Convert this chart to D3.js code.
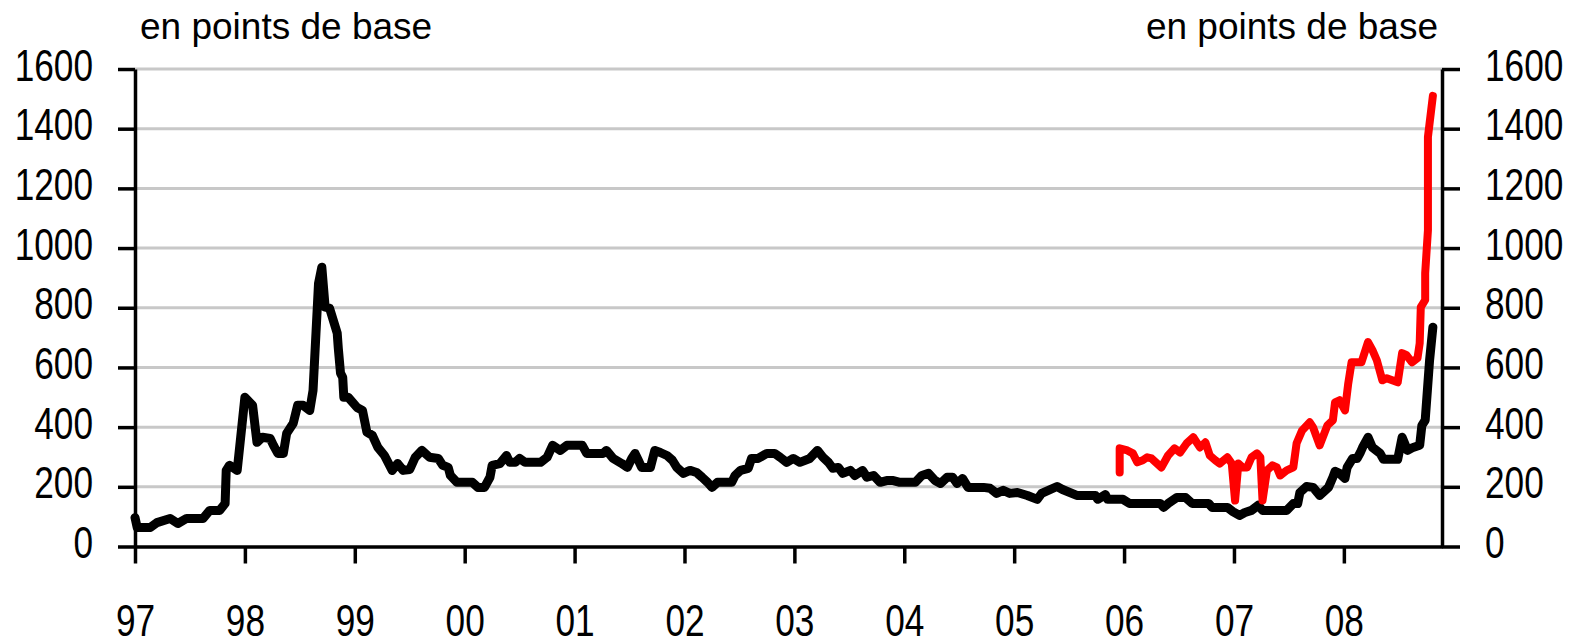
<!DOCTYPE html>
<html>
<head>
<meta charset="utf-8">
<script src="https://cdn.jsdelivr.net/npm/d3@7"></script>
<style>
  html, body { margin: 0; padding: 0; background: #fff; }
  svg { display: block; }
  text { font-family: "Liberation Sans", Arial, sans-serif; fill: #000; }
</style>
</head>
<body>
<svg id="chart" width="1574" height="644"></svg>
<script>
// Year ticks (shown as two digits) and value ticks, same on both sides
const yearTicks = [1997, 1998, 1999, 2000, 2001, 2002, 2003, 2004, 2005, 2006, 2007, 2008];
const valueTicks = [0, 200, 400, 600, 800, 1000, 1200, 1400, 1600];
const unitLabel = "en points de base";

// Black series: [decimal year, basis points]
const blackSpread = [
  [1997.00, 97], [1997.02, 64], [1997.14, 64], [1997.20, 80], [1997.32, 94], [1997.39, 77],
  [1997.47, 94], [1997.62, 94], [1997.68, 121], [1997.77, 121], [1997.82, 144], [1997.83, 255],
  [1997.86, 272], [1997.93, 255], [1998.00, 500], [1998.07, 473], [1998.11, 349], [1998.16, 366],
  [1998.23, 362], [1998.26, 339], [1998.30, 312], [1998.35, 312], [1998.38, 379], [1998.44, 413],
  [1998.48, 473], [1998.53, 473], [1998.59, 456], [1998.62, 523], [1998.67, 882], [1998.70, 936],
  [1998.73, 802], [1998.77, 799], [1998.84, 715], [1998.85, 664], [1998.87, 581], [1998.89, 567],
  [1998.90, 500], [1998.94, 500], [1999.02, 466], [1999.07, 456], [1999.11, 383], [1999.16, 372],
  [1999.21, 332], [1999.27, 305], [1999.34, 255], [1999.39, 278], [1999.44, 255], [1999.50, 258],
  [1999.55, 299], [1999.61, 322], [1999.68, 299], [1999.76, 295], [1999.80, 272], [1999.85, 265],
  [1999.87, 238], [1999.93, 215], [2000.07, 215], [2000.12, 198], [2000.18, 198], [2000.23, 232],
  [2000.25, 272], [2000.32, 278], [2000.38, 305], [2000.41, 282], [2000.46, 282], [2000.50, 295],
  [2000.55, 282], [2000.69, 282], [2000.75, 299], [2000.80, 339], [2000.87, 322], [2000.93, 339],
  [2001.07, 339], [2001.11, 312], [2001.26, 312], [2001.29, 322], [2001.35, 295], [2001.43, 278],
  [2001.48, 265], [2001.52, 295], [2001.55, 312], [2001.58, 289], [2001.61, 265], [2001.69, 265],
  [2001.73, 322], [2001.78, 315], [2001.84, 305], [2001.89, 289], [2001.93, 265], [2001.99, 245],
  [2002.05, 255], [2002.11, 248], [2002.16, 232], [2002.21, 215], [2002.25, 198], [2002.30, 215],
  [2002.43, 215], [2002.46, 238], [2002.51, 255], [2002.58, 262], [2002.61, 295], [2002.67, 295],
  [2002.75, 312], [2002.82, 312], [2002.87, 299], [2002.93, 282], [2002.99, 295], [2003.05, 282],
  [2003.14, 295], [2003.21, 322], [2003.26, 299], [2003.31, 282], [2003.35, 262], [2003.40, 265],
  [2003.44, 245], [2003.51, 255], [2003.55, 238], [2003.62, 255], [2003.66, 232], [2003.72, 238],
  [2003.78, 215], [2003.84, 221], [2003.90, 221], [2003.96, 215], [2004.10, 215], [2004.16, 238],
  [2004.22, 245], [2004.28, 221], [2004.33, 211], [2004.39, 232], [2004.44, 232], [2004.48, 211],
  [2004.53, 228], [2004.58, 198], [2004.72, 198], [2004.78, 195], [2004.84, 178], [2004.90, 188],
  [2004.96, 178], [2005.03, 181], [2005.12, 171], [2005.21, 158], [2005.25, 178], [2005.39, 201],
  [2005.44, 191], [2005.57, 171], [2005.74, 171], [2005.76, 158], [2005.83, 174], [2005.85, 158],
  [2005.99, 158], [2006.05, 144], [2006.33, 144], [2006.36, 131], [2006.40, 144], [2006.48, 164],
  [2006.56, 164], [2006.62, 144], [2006.77, 144], [2006.80, 131], [2006.94, 131], [2006.99, 117],
  [2007.05, 104], [2007.10, 114], [2007.16, 121], [2007.22, 138], [2007.26, 121], [2007.48, 121],
  [2007.54, 144], [2007.58, 144], [2007.60, 181], [2007.66, 201], [2007.72, 198], [2007.78, 171],
  [2007.86, 198], [2007.90, 232], [2007.92, 252], [2007.96, 245], [2008.01, 228], [2008.03, 265],
  [2008.08, 295], [2008.12, 295], [2008.15, 315], [2008.17, 332], [2008.22, 366], [2008.26, 332],
  [2008.33, 312], [2008.36, 292], [2008.49, 292], [2008.53, 366], [2008.58, 322], [2008.63, 332],
  [2008.69, 339], [2008.71, 406], [2008.74, 423], [2008.76, 523], [2008.78, 624], [2008.81, 735]
];

// Red series, from 2006 on
const redSpread = [
  [2005.96, 248], [2005.96, 329], [2006.03, 322], [2006.08, 312], [2006.12, 282], [2006.17, 289],
  [2006.21, 299], [2006.25, 295], [2006.34, 265], [2006.40, 305], [2006.46, 329], [2006.51, 315],
  [2006.57, 346], [2006.63, 366], [2006.69, 332], [2006.74, 349], [2006.78, 305], [2006.83, 289],
  [2006.87, 278], [2006.94, 299], [2006.98, 278], [2007.01, 154], [2007.04, 278], [2007.08, 265],
  [2007.12, 265], [2007.16, 299], [2007.21, 312], [2007.24, 299], [2007.26, 154], [2007.30, 255],
  [2007.35, 272], [2007.39, 265], [2007.42, 238], [2007.48, 255], [2007.54, 265], [2007.57, 346],
  [2007.62, 389], [2007.69, 416], [2007.72, 399], [2007.78, 339], [2007.85, 406], [2007.90, 423],
  [2007.92, 483], [2007.96, 490], [2008.01, 456], [2008.04, 547], [2008.07, 617], [2008.16, 617],
  [2008.22, 685], [2008.26, 658], [2008.30, 624], [2008.35, 557], [2008.39, 564], [2008.44, 557],
  [2008.49, 550], [2008.53, 648], [2008.57, 641], [2008.62, 617], [2008.67, 631], [2008.69, 681],
  [2008.70, 802], [2008.74, 826], [2008.74, 916], [2008.765, 1060], [2008.765, 1372], [2008.81, 1510]
];

const svg = d3.select('#chart');

const x = d3.scaleLinear()
  .domain([1997, 2008.893])
  .range([135, 1442]);

const y = d3.scaleLinear()
  .domain([0, 1600])
  .range([546.5, 69]);

// Light grey horizontal grid, between the two axes
svg.append('g')
  .selectAll('line')
  .data(valueTicks.filter(v => v > 0))
  .enter().append('line')
  .attr('x1', x.range()[0])
  .attr('x2', x.range()[1])
  .attr('y1', d => y(d))
  .attr('y2', d => y(d))
  .attr('stroke', '#c8c8c8')
  .attr('stroke-width', 3);

const line = d3.line()
  .x(d => x(d[0]))
  .y(d => y(d[1]));

svg.append('path')
  .datum(blackSpread)
  .attr('d', line)
  .attr('fill', 'none')
  .attr('stroke', '#000')
  .attr('stroke-width', 9)
  .attr('stroke-linejoin', 'round')
  .attr('stroke-linecap', 'round');

svg.append('path')
  .datum(redSpread)
  .attr('d', line)
  .attr('fill', 'none')
  .attr('stroke', '#ff0000')
  .attr('stroke-width', 8)
  .attr('stroke-linejoin', 'round')
  .attr('stroke-linecap', 'round');

// Digits in the original are narrow: squeeze the tick labels horizontally
function styleAxis(g) {
  g.attr('font-size', null).attr('font-family', null);
  g.select('.domain').attr('stroke', '#000').attr('stroke-width', 3.5);
  g.selectAll('.tick line').attr('stroke', '#000').attr('stroke-width', 3.5);
  g.selectAll('.tick text')
    .style('font-size', '44px')
    .each(function() {
      const t = d3.select(this);
      const tx = +t.attr('x') || 0;
      t.attr('x', 0).attr('transform', `translate(${tx},0) scale(0.8,1)`);
    });
}

const fmtYear = d => String(d % 100).padStart(2, '0');
const fmtValue = d3.format('d');

svg.append('g')
  .attr('transform', `translate(0,${y(0)})`)
  .call(d3.axisBottom(x).tickValues(yearTicks).tickFormat(fmtYear)
    .tickSize(17).tickSizeOuter(0).tickPadding(41))
  .call(styleAxis);

svg.append('g')
  .attr('transform', `translate(${x.range()[0]},0)`)
  .call(d3.axisLeft(y).tickValues(valueTicks).tickFormat(fmtValue)
    .tickSize(17).tickSizeOuter(0).tickPadding(25))
  .call(styleAxis)
  .selectAll('.tick text').attr('dy', '0.25em');

svg.append('g')
  .attr('transform', `translate(${x.range()[1]},0)`)
  .call(d3.axisRight(y).tickValues(valueTicks).tickFormat(fmtValue)
    .tickSize(18).tickSizeOuter(0).tickPadding(25))
  .call(styleAxis)
  .selectAll('.tick text').attr('dy', '0.25em');

// Unit labels above each axis
svg.append('text')
  .attr('x', 140)
  .attr('y', 39)
  .style('font-size', '37px')
  .text(unitLabel);

svg.append('text')
  .attr('x', 1438)
  .attr('y', 39)
  .attr('text-anchor', 'end')
  .style('font-size', '37px')
  .text(unitLabel);
</script>
</body>
</html>
